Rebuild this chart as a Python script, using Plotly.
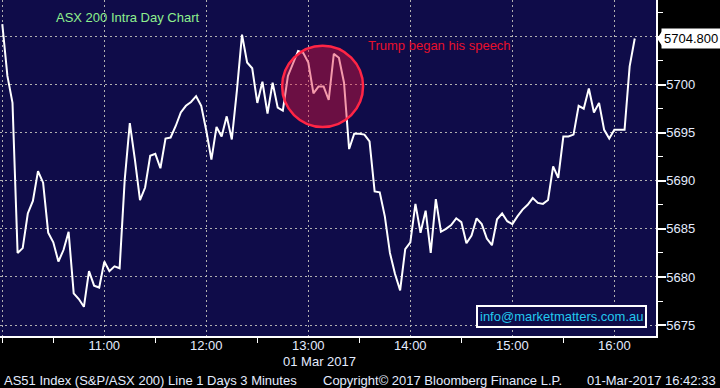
import pandas as pd
import plotly.graph_objects as go

# ---------------- data ----------------
start_time = "2017-03-01 10:00"
bar_minutes = 3
values = [
    5706.3, 5700.9, 5698.1, 5682.5, 5683.0, 5686.6, 5687.9, 5691.0, 5689.8, 5684.6,
    5683.6, 5681.6, 5682.8, 5684.7, 5678.3, 5677.7, 5676.9, 5680.6, 5679.1, 5678.9,
    5681.6, 5680.6, 5681.1, 5680.9, 5690.1, 5696.0, 5692.2, 5688.0, 5689.3, 5692.6,
    5692.8, 5691.3, 5694.4, 5694.5, 5695.7, 5697.1, 5697.8, 5698.2, 5698.8, 5697.8,
    5695.2, 5692.2, 5695.6, 5694.6, 5696.7, 5694.3, 5699.4, 5705.2, 5702.3, 5701.7,
    5698.1, 5700.3, 5697.0, 5700.2, 5697.6, 5697.3, 5700.9, 5702.2, 5703.5, 5703.3,
    5702.3, 5699.1, 5699.8, 5699.8, 5698.4, 5703.2, 5702.8, 5700.2, 5693.3, 5694.9,
    5694.9, 5694.8, 5694.1, 5688.9, 5688.8, 5686.3, 5682.5, 5680.3, 5678.6, 5682.9,
    5683.6, 5687.6, 5684.6, 5686.9, 5682.5, 5688.1, 5684.7, 5685.0, 5685.4, 5686.1,
    5685.7, 5683.5, 5684.3, 5686.1, 5685.5, 5684.0, 5683.3, 5686.0, 5686.6, 5685.8,
    5685.5, 5686.3, 5687.0, 5687.5, 5688.2, 5687.7, 5687.6, 5688.0, 5691.5, 5690.3,
    5694.6, 5694.6, 5694.8, 5697.8, 5697.5, 5699.6, 5697.1, 5698.1, 5695.3, 5694.4,
    5695.3, 5695.3, 5695.3, 5701.9, 5704.8,
]
hour_ticks = ["10:00", "11:00", "12:00", "13:00", "14:00", "15:00", "16:00"]
hour_labels = ["", "11:00", "12:00", "13:00", "14:00", "15:00", "16:00"]
half_hour_ticks = ["10:00", "10:30", "11:30", "12:30", "13:30", "14:30", "15:30"]
y_ticks = [5675, 5680, 5685, 5690, 5695, 5700, 5705]
y_labels = ["5675", "5680", "5685", "5690", "5695", "5700", ""]
y_minor = [5677.5, 5682.5, 5687.5, 5692.5, 5697.5, 5702.5, 5707.5]
speech_time = "2017-03-01 13:08:24"
speech_level = 5699.82

title_text = "ASX 200 Intra Day Chart"
note_text = "Trump began his speech"
email_text = "info@marketmatters.com.au"
date_text = "01 Mar 2017"
footer_left = "AS51 Index (S&P/ASX 200) Line 1 Days 3 Minutes"
footer_mid = "Copyright\u00a9 2017 Bloomberg Finance L.P."
footer_right = "01-Mar-2017 16:42:33"

# ---------------- build ----------------
times = pd.date_range(start_time, periods=len(values), freq=f"{bar_minutes}min")
day = "2017-03-01 "

W, H = 720, 388
PW, PH = 656, 336  # plot area in px


def px(x):
    return x / PW


def py(y):
    return (PH - y) / PH


NAVY = "#0f0c49"
LABEL = "#e4ecff"
FONT = "Liberation Sans, Arial, sans-serif"

fig = go.Figure()
fig.add_trace(go.Scatter(
    x=times, y=values, mode="lines",
    line=dict(color="white", width=2),
    hoverinfo="skip",
))

x_range = [pd.Timestamp(day + "09:58:39"), pd.Timestamp(day + "16:24:30")]
y_range = [5673.86, 5708.8]

fig.update_layout(
    width=W, height=H,
    margin=dict(l=0, r=W - PW, t=0, b=H - PH),
    paper_bgcolor="black",
    plot_bgcolor=NAVY,
    showlegend=False,
    hovermode=False,
    font=dict(family=FONT, size=13, color=LABEL),
    xaxis=dict(
        type="date",
        range=x_range,
        tickvals=[day + t for t in hour_ticks],
        ticktext=hour_labels,
        showgrid=True, gridcolor="#b0b0b0", gridwidth=1, griddash="2px,3px",
        ticks="", zeroline=False,
        showline=True, linecolor="white", linewidth=2,
        tickfont=dict(size=13, color=LABEL, family=FONT),
        ticklabelstandoff=-4,
        minor=dict(tickvals=[day + t for t in half_hour_ticks], ticks="outside",
                   ticklen=5, tickwidth=1, tickcolor="white", showgrid=False),
    ),
    yaxis=dict(
        side="right",
        range=y_range,
        tickvals=y_ticks,
        ticktext=y_labels,
        showgrid=True, gridcolor="#b0b0b0", gridwidth=1, griddash="2px,3px",
        ticks="outside", ticklen=8, tickwidth=2, tickcolor="white",
        zeroline=False,
        showline=True, linecolor="white", linewidth=1.5,
        tickfont=dict(size=13, color=LABEL, family=FONT),
        ticklabelstandoff=-2,
        minor=dict(tickvals=y_minor, ticks="outside", ticklen=5, tickwidth=1,
                   tickcolor="white", showgrid=False),
    ),
)

# speech circle
center = pd.Timestamp(speech_time)
rx = pd.Timedelta(minutes=23.8)
ry = 4.23
fig.add_shape(
    type="circle", xref="x", yref="y",
    x0=center - rx, x1=center + rx,
    y0=speech_level - ry, y1=speech_level + ry,
    fillcolor="rgba(230,20,60,0.43)",
    line=dict(color="#ff2545", width=2.5),
    layer="above",
)

# last value marker (notch + box)
last = values[-1]
fig.add_shape(
    type="path", xref="paper", yref="y",
    path=f"M {px(657)},{last} L {px(662)},{last + 0.75} L {px(662)},{last - 0.75} Z",
    fillcolor="white", line=dict(color="white", width=0),
)
fig.add_annotation(
    xref="paper", yref="y", x=px(661), y=last, xanchor="left", yanchor="middle",
    text=f"{last:.3f}", showarrow=False,
    font=dict(color="black", size=13, family=FONT),
    bgcolor="white", borderpad=2,
)


def label(text, x, y, color, anchor="center", **kw):
    fig.add_annotation(xref="paper", yref="paper", x=px(x), y=py(y),
                       xanchor=anchor, yanchor="middle",
                       text=text, showarrow=False,
                       font=dict(color=color, size=13, family=FONT), **kw)


label(title_text, 127, 17, "#8ef08e")
label(note_text, 439, 46, "#e8102c")
label(email_text, 561.5, 316.5, "#22c8ee",
      bgcolor=NAVY, bordercolor="white", borderwidth=2, borderpad=2)
label(date_text, 319, 361, LABEL)
label(footer_left, 2, 380, LABEL, anchor="left")
label(footer_mid, 321, 380, LABEL, anchor="left")
label(footer_right, 718, 380, LABEL, anchor="right")

fig.write_html("out.html")
